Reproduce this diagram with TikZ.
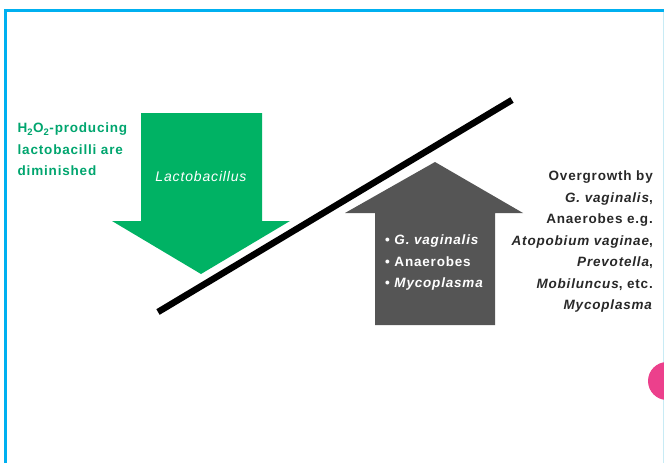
\documentclass[tikz,border=0pt]{standalone}
\usepackage{fontspec}
\setmainfont{Liberation Sans}[LetterSpace=6]
\definecolor{frameblue}{RGB}{0,176,240}
\definecolor{lightframe}{RGB}{200,235,245}
\definecolor{arrowgreen}{RGB}{0,178,100}
\definecolor{textgreen}{RGB}{0,165,110}
\definecolor{arrowgray}{RGB}{85,85,85}
\definecolor{dotpink}{RGB}{236,64,140}
\definecolor{txtdark}{RGB}{40,40,40}
\begin{document}
\begin{tikzpicture}[x=1pt,y=-1pt,
  lbl/.style={inner sep=0pt,font=\bfseries\fontsize{13.5}{21.5}\selectfont}]
\useasboundingbox (0,0) rectangle (664,463);
% frame
\draw[frameblue,line width=3pt] (5.5,463) -- (5.5,10) -- (664,10);
\draw[lightframe,line width=1pt] (663,11.5) -- (663,463);
% pink dot
\fill[dotpink] (667,381) circle (19);
% green arrow
\fill[arrowgreen] (141,113) -- (262,113) -- (262,221) -- (290,221) -- (201,274) -- (112,221) -- (141,221) -- cycle;
% gray arrow
\fill[arrowgray] (435,162) -- (523,213) -- (495,213) -- (495,325) -- (375,325) -- (375,213) -- (345,213) -- cycle;
% black line
\coordinate (la) at (158,312);
\coordinate (lb) at (512,100);
\draw[black,line width=6.5pt] (la) -- (lb);
% texts
\node[lbl,text=textgreen,align=left,anchor=north west] (green) at (17.5,123)
  {H\textsubscript{2}O\textsubscript{2}-producing\\lactobacilli are\\diminished};
\node[lbl,text=white,font=\itshape\fontsize{14}{16}\selectfont,inner sep=0pt] (lacto) at (201,176) {Lactobacillus};
\node[lbl,text=white,align=left,anchor=north west] (bul) at (385,235)
  {• \textit{G. vaginalis}\\• Anaerobes\\• \textit{Mycoplasma}};
\node[lbl,text=txtdark,align=right,anchor=north east] (over) at (653,171)
  {Overgrowth by\\\textit{G. vaginalis},\\Anaerobes e.g.\\\textit{Atopobium vaginae},\\\textit{Prevotella},\\\textit{Mobiluncus}, etc.\\\textit{Mycoplasma}};
\end{tikzpicture}
\end{document}
